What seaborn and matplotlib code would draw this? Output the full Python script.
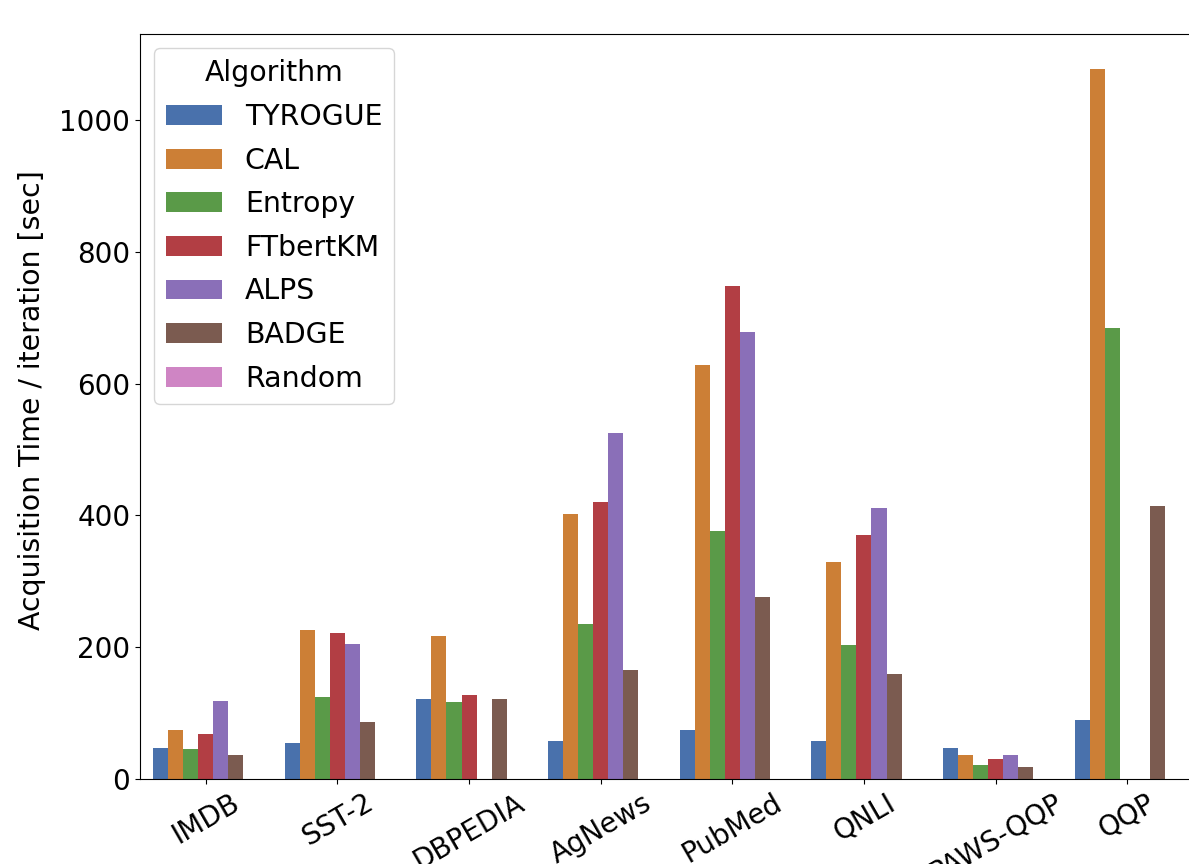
import numpy as np
import pandas as pd
import matplotlib
matplotlib.use("Agg")
import matplotlib.pyplot as plt
import seaborn as sns

datasets = ["IMDB", "SST-2", "DBPEDIA", "AgNews", "PubMed", "QNLI", "PAWS-QQP", "QQP"]
algorithms = ["TYROGUE", "CAL", "Entropy", "FTbertKM", "ALPS", "BADGE", "Random"]

nan = np.nan
tyrogue = [47, 55, 122, 58, 74, 58, 47, 90]
cal = [74, 226, 217, 403, 628, 330, 36, 1077]
entropy = [45, 125, 117, 236, 376, 204, 22, 684]
ftbertkm = [68, 222, 127, 421, 748, 370, 30, nan]
alps = [119, 205, nan, 525, 679, 411, 36, nan]
badge = [36, 87, 122, 165, 276, 160, 18, 414]
random_ = [nan] * 8

colors = ["#4971ac", "#cc7f36", "#5a9a48", "#b23e44", "#8a6fb8", "#7b5b50", "#cf85c4"]

series = [tyrogue, cal, entropy, ftbertkm, alps, badge, random_]
rows = []
for alg, vals in zip(algorithms, series):
    for ds, v in zip(datasets, vals):
        rows.append({"Dataset": ds, "Algorithm": alg, "Time": v})
df = pd.DataFrame(rows)

plt.rcParams["font.family"] = ["DejaVu Sans"]
fs_tick = 20
fs = 20.4

W, H = 1189, 864
fig = plt.figure(figsize=(W / 100, H / 100), dpi=100)
left, right, top, bottom = 140, 1193, 34, 779
ax = fig.add_axes([left / W, 1 - bottom / H, (right - left) / W, (bottom - top) / H])

sns.barplot(data=df, x="Dataset", y="Time", hue="Algorithm", order=datasets,
            hue_order=algorithms, palette=colors, saturation=1, ax=ax, errorbar=None)

ax.set_xlabel("")
ax.set_ylabel("Acquisition Time / iteration [sec]", fontsize=fs, labelpad=10)
ax.yaxis.label.set_y(0.509)
ax.tick_params(axis="both", labelsize=fs_tick)
ax.set_yticks([0, 200, 400, 600, 800, 1000])
for lbl in ax.get_xticklabels():
    lbl.set_rotation(30)
    lbl.set_ha("center")

ax.legend(title="Algorithm", loc="upper left", fontsize=fs, title_fontsize=fs,
          labelspacing=0.55)

fig.savefig("out.png", dpi=100)
